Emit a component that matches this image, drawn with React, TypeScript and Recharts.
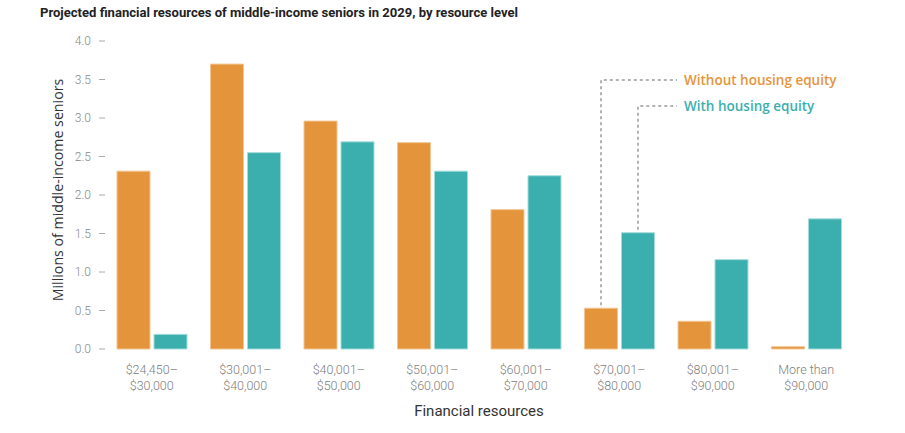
import { BarChart, Bar, XAxis, YAxis, LabelList } from "recharts";

const categories = [
  "$24,450–\n$30,000",
  "$30,001–\n$40,000",
  "$40,001–\n$50,000",
  "$50,001–\n$60,000",
  "$60,001–\n$70,000",
  "$70,001–\n$80,000",
  "$80,001–\n$90,000",
  "More than\n$90,000",
];
const withoutEquity = [2.31, 3.7, 2.96, 2.68, 1.81, 0.53, 0.36, 0.03];
const withEquity = [0.19, 2.55, 2.69, 2.31, 2.25, 1.51, 1.16, 1.69];
const yTicks = [0, 0.5, 1, 1.5, 2, 2.5, 3, 3.5, 4];

// the legend is hung off the bars of this group
const legendIndex = 5;

const ORANGE = "#e4953b";
const TEAL = "#3aafae";

const data = categories.map((c, i) => ({
  name: c,
  without: withoutEquity[i],
  with: withEquity[i],
}));

function XTick({ x, y, payload }: any) {
  const lines = String(payload.value).split("\n");
  return (
    <text
      x={x}
      y={y}
      textAnchor="middle"
      fill="#808080"
      fontSize={12.5}
      fontFamily="Roboto"
      fontWeight={300}
    >
      {lines.map((l, i) => (
        <tspan key={i} x={x} dy={i === 0 ? 17 : 16}>
          {l}
        </tspan>
      ))}
    </text>
  );
}

function YTick({ x, y, payload }: any) {
  return (
    <text
      x={x}
      y={y}
      dy={4}
      textAnchor="end"
      fill="#888"
      fontSize={12}
      fontFamily="Roboto"
      fontWeight={300}
    >
      {payload.value.toFixed(1)}
    </text>
  );
}

function legendCallout(text: string, color: string, textY: number) {
  return (props: any) => {
    if (props.index !== legendIndex) return null;
    const vb = props.viewBox || props;
    const cx = vb.x + vb.width / 2;
    const top = vb.y - 3;
    return (
      <g>
        <path
          d={`M${cx},${top} L${cx},${textY} L677,${textY}`}
          fill="none"
          stroke="#999"
          strokeWidth={1.5}
          strokeDasharray="3 3"
        />
        <text
          x={684}
          y={textY}
          dy={5}
          fill={color}
          fontSize={13.5}
          fontFamily="Open Sans"
          fontWeight={600}
        >
          {text}
        </text>
      </g>
    );
  };
}

export default function App() {
  return (
    <div
      style={{
        position: "absolute",
        left: 0,
        top: 0,
        width: 905,
        height: 433,
        background: "#fff",
      }}
    >
      <svg
        width={600}
        height={24}
        style={{ position: "absolute", left: 0, top: 0 }}
      >
        <text
          x={40}
          y={17}
          textLength={478}
          lengthAdjust="spacingAndGlyphs"
          fontFamily="Roboto"
          fontWeight={700}
          fontSize={13}
          fill="#222"
        >
          Projected financial resources of middle-income seniors in 2029, by
          resource level
        </text>
      </svg>
      <BarChart
        width={905}
        height={433}
        data={data}
        margin={{ top: 41, right: 52, bottom: 0, left: 40 }}
        barCategoryGap={12}
        barGap={4}
      >
        <XAxis
          dataKey="name"
          axisLine={false}
          tickLine={false}
          interval={0}
          tick={<XTick />}
          height={84}
          label={{
            value: "Financial resources",
            position: "insideBottom",
            offset: 17,
            fill: "#333",
            fontSize: 15,
            fontFamily: "Roboto",
          }}
        />
        <YAxis
          domain={[0, 4]}
          ticks={yTicks}
          width={65}
          axisLine={false}
          tickLine={{ stroke: "#aaa" }}
          tickSize={6}
          tickMargin={8}
          tick={<YTick />}
          label={{
            content: ({ viewBox }: any) => {
              const lx = 57;
              const ly = viewBox.y + viewBox.height / 2 - 5;
              return (
                <text
                  x={lx}
                  y={ly}
                  transform={`rotate(-90 ${lx} ${ly})`}
                  textAnchor="middle"
                  dominantBaseline="central"
                  fill="#333"
                  fontSize={14.2}
                  fontFamily="Open Sans"
                  fontWeight={500}
                >
                  Millions of middle-income seniors
                </text>
              );
            },
          }}
        />
        <Bar
          dataKey="without"
          fill={ORANGE}
          stroke="#f2c592"
          strokeWidth={1}
          isAnimationActive={false}
        >
          <LabelList
            dataKey="without"
            content={legendCallout("Without housing equity", ORANGE, 80)}
          />
        </Bar>
        <Bar
          dataKey="with"
          fill={TEAL}
          stroke="#a3dbda"
          strokeWidth={1}
          isAnimationActive={false}
        >
          <LabelList
            dataKey="with"
            content={legendCallout("With housing equity", TEAL, 106)}
          />
        </Bar>
      </BarChart>
    </div>
  );
}
